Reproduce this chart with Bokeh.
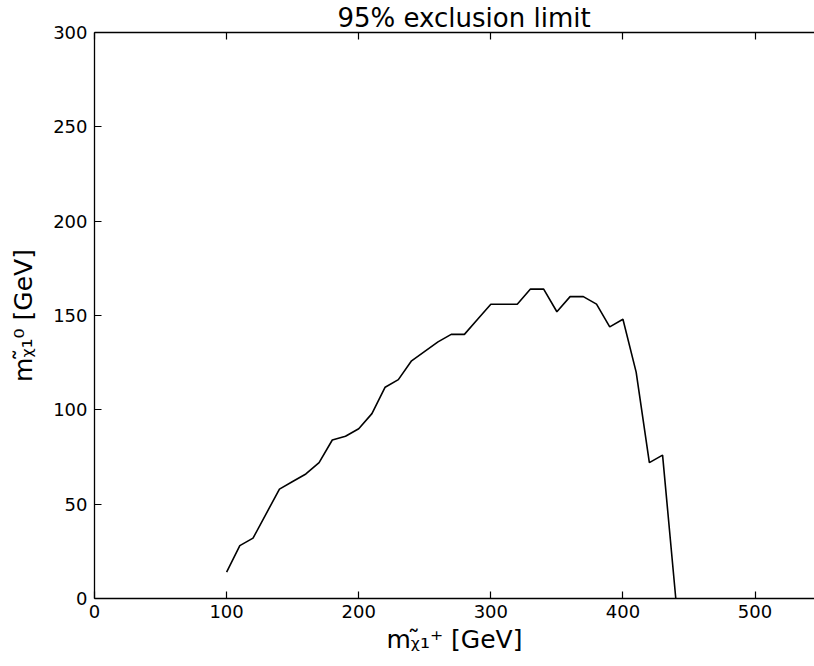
from bokeh.plotting import figure
from bokeh.models import LinearAxis, FixedTicker, Range1d, CustomJSTickFormatter
from bokeh.embed import file_html
from bokeh.resources import INLINE

# --- data ---
chargino_mass = [100, 110, 120, 130, 140, 150, 160, 170, 180, 190,
                 200, 210, 220, 230, 240, 250, 260, 270, 280, 290,
                 300, 310, 320, 330, 340, 350, 360, 370, 380, 390,
                 400, 410, 420, 430, 440]
neutralino_limit = [14, 28, 32, 45, 58, 62, 66, 72, 84, 86,
                    90, 98, 112, 116, 126, 131, 136, 140, 140, 148,
                    156, 156, 156, 164, 164, 152, 160, 160, 156, 144,
                    148, 120, 72, 76, 0]
x_ticks = [0, 100, 200, 300, 400, 500]
y_ticks = [0, 50, 100, 150, 200, 250, 300]
title_text = "95% exclusion limit"
x_label = "m\u1d6a\u0303\u2081\u207a [GeV]"
y_label = "m\u1d6a\u0303\u2081\u2070 [GeV]"

FONT = "DejaVu Sans"

p = figure(width=814, height=666, output_backend="svg", toolbar_location=None,
           x_range=Range1d(0, 545), y_range=Range1d(0, 300),
           title=title_text,
           min_border_left=94, min_border_right=0, min_border_top=0,
           min_border_bottom=68)
p.outline_line_color = None
p.grid.visible = False
p.background_fill_color = "white"
p.border_fill_color = "white"

p.title.text_font = FONT
p.title.text_font_size = "26px"
p.title.text_font_style = "normal"
p.title.text_color = "black"
p.title.align = "left"
p.title.offset = 243
p.title.standoff = 0

p.line(chargino_mass, neutralino_limit, line_color="black", line_width=1.6)

def style_axis(ax, ticks):
    ax.ticker = FixedTicker(ticks=ticks)
    ax.axis_line_color = "black"
    ax.axis_line_width = 1.3
    ax.major_tick_line_color = "black"
    ax.major_tick_line_width = 1.2
    ax.major_tick_in = 7
    ax.major_tick_out = 0
    ax.minor_tick_in = 0
    ax.minor_tick_out = 0
    ax.major_label_text_font = FONT
    ax.major_label_text_font_size = "18px"
    ax.major_label_text_color = "black"
    ax.axis_label_text_font = FONT
    ax.axis_label_text_font_size = "25px"
    ax.axis_label_text_font_style = "normal"
    ax.axis_label_text_color = "black"

style_axis(p.xaxis[0], x_ticks)
style_axis(p.yaxis[0], y_ticks)
p.xaxis[0].axis_label = x_label
p.yaxis[0].axis_label = y_label
p.xaxis[0].major_label_standoff = 6
p.yaxis[0].major_label_standoff = 7
p.xaxis[0].axis_label_standoff = 4
p.yaxis[0].axis_label_standoff = 12

top_axis = LinearAxis()
style_axis(top_axis, x_ticks)
top_axis.formatter = CustomJSTickFormatter(code="return ''")
top_axis.major_label_standoff = 0
p.add_layout(top_axis, "above")

open("out.html", "w").write(file_html(p, INLINE))
